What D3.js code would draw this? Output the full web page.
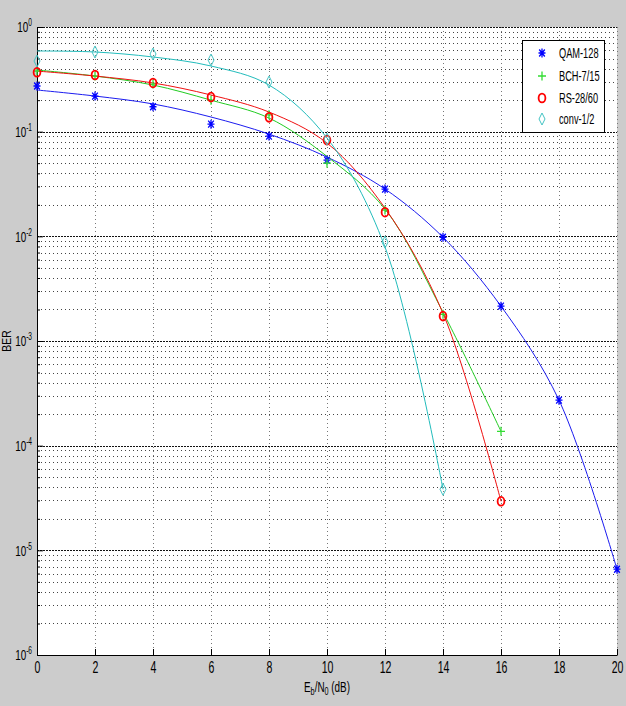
<!DOCTYPE html>
<html>
<head>
<meta charset="utf-8">
<script src="https://cdn.jsdelivr.net/npm/d3@7"></script>
<style>
body { margin: 0; background: #cccccc; }
svg { display: block; font-family: "Liberation Sans", Arial, sans-serif; }
</style>
</head>
<body>
<div id="chart"></div>
<script>
// Eb/N0 axis (dB)
var ebn0 = [0, 2, 4, 6, 8, 10, 12, 14, 16, 18, 20];
var xTicks = [0, 2, 4, 6, 8, 10, 12, 14, 16, 18, 20];
var yExponents = [-6, -5, -4, -3, -2, -1, 0];

// simulated points (markers) and fitted curves
var qamMarks  = [0.273, 0.219, 0.173, 0.118, 0.0908, 0.0535, 0.0283, 0.0098, 0.00215, 2.72e-4, 6.6e-6];
var qamFit    = [0.25, 0.219, 0.184, 0.138, 0.0948, 0.0572, 0.0283, 0.0098, 0.00215, 2.72e-4, 6.6e-6];
var bchMarks  = [0.38, 0.34, 0.285, 0.2, 0.145, 0.05, 0.0178, 0.0018, 1.37e-4];
var bchFit    = [0.388, 0.34, 0.279, 0.2, 0.135, 0.058, 0.0182, 0.00188, 1.37e-4];
var rsMarks   = [0.369, 0.348, 0.292, 0.214, 0.137, 0.0831, 0.017, 0.00173, 2.94e-5];
var rsFit     = [0.379, 0.34, 0.292, 0.224, 0.154, 0.0778, 0.0186, 0.00184, 2.94e-5];
var convMarks = [0.473, 0.577, 0.552, 0.484, 0.298, 0.0849, 0.0088, 3.83e-5];
var convFit   = [0.59, 0.577, 0.517, 0.424, 0.279, 0.087, 0.0079, 3.83e-5];

var series = [
  { name: 'QAM-128',  marks: qamMarks,  fit: qamFit,  color: '#0000ff', line: '#1c1cf0', marker: 'asterisk' },
  { name: 'BCH-7/15', marks: bchMarks,  fit: bchFit,  color: '#33dd33', line: '#22cc22', marker: 'plus' },
  { name: 'RS-28/60', marks: rsMarks,   fit: rsFit,   color: '#ff0000', line: '#f01010', marker: 'circle' },
  { name: 'conv-1/2', marks: convMarks, fit: convFit, color: '#44c4c4', line: '#22bcbc', marker: 'diamond' }
];

var width = 626, height = 706;
var sx = 0.66; // squeeze text horizontally like the original render

var svg = d3.select('#chart').append('svg')
  .attr('width', width)
  .attr('height', height);

svg.append('rect').attr('width', width).attr('height', height).attr('fill', '#cccccc');

var x = d3.scaleLinear().domain([0, 20]).range([37, 617]);
var y = d3.scaleLog().domain([1e-6, 1]).range([655, 27]);

svg.append('rect')
  .attr('x', x(0)).attr('y', y(1))
  .attr('width', x(20) - x(0)).attr('height', y(1e-6) - y(1))
  .attr('fill', '#fff');

var yDecades = yExponents.map(function(e) { return Math.pow(10, e); });
var yMinor = [];
yDecades.slice(0, -1).forEach(function(d) {
  for (var k = 2; k <= 9; k++) yMinor.push(d * k);
});

// grid
var grid = svg.append('g').attr('class', 'grid').attr('shape-rendering', 'crispEdges');
grid.selectAll('line.vx').data(xTicks.slice(1))
  .enter().append('line')
  .attr('x1', function(d) { return Math.round(x(d)) + 0.5; })
  .attr('x2', function(d) { return Math.round(x(d)) + 0.5; })
  .attr('y1', y(1)).attr('y2', y(1e-6))
  .attr('stroke', '#777').attr('stroke-dasharray', '1,3');
grid.selectAll('line.hmin').data(yMinor)
  .enter().append('line')
  .attr('x1', x(0)).attr('x2', x(20))
  .attr('y1', function(d) { return Math.round(y(d)) + 0.5; })
  .attr('y2', function(d) { return Math.round(y(d)) + 0.5; })
  .attr('stroke', '#444').attr('stroke-dasharray', '1,3');
grid.selectAll('line.hmaj').data(yDecades.slice(1))
  .enter().append('line')
  .attr('x1', x(0)).attr('x2', x(20))
  .attr('y1', function(d) { return Math.round(y(d)) + 0.5; })
  .attr('y2', function(d) { return Math.round(y(d)) + 0.5; })
  .attr('stroke', '#111').attr('stroke-dasharray', '2,1');

// axes (box off: only left and bottom)
var xAxis = svg.append('g')
  .attr('transform', 'translate(0,' + y(1e-6) + ')')
  .call(d3.axisBottom(x).tickValues(xTicks).tickSize(-6).tickSizeOuter(0).tickPadding(7));
xAxis.selectAll('text')
  .attr('font-size', 16)
  .attr('fill', '#000')
  .attr('font-family', '"Liberation Sans", Arial, sans-serif')
  .attr('transform', 'scale(' + sx + ',1)');

var yAxis = svg.append('g')
  .attr('transform', 'translate(' + x(0) + ',0)')
  .call(d3.axisLeft(y).tickValues(yDecades).tickSize(-6).tickSizeOuter(0).tickFormat(''));
svg.append('g')
  .attr('transform', 'translate(' + x(0) + ',0)')
  .call(d3.axisLeft(y).tickValues(yMinor).tickSize(-3).tickSizeOuter(0).tickFormat(''))
  .select('.domain').remove();

var yLab = svg.append('g').selectAll('text').data(yExponents)
  .enter().append('text')
  .attr('transform', function(e) { return 'translate(32,' + y(Math.pow(10, e)) + ') scale(' + sx + ',1)'; })
  .attr('text-anchor', 'end')
  .attr('font-size', 15)
  .attr('dy', '0.35em');
yLab.append('tspan').text('10');
yLab.append('tspan').attr('dy', -6).attr('font-size', 10).text(function(e) { return String(e); });

// axis titles
var xt = svg.append('text')
  .attr('transform', 'translate(327,692) scale(' + sx + ',1)')
  .attr('text-anchor', 'middle')
  .attr('font-size', 15);
xt.append('tspan').text('E');
xt.append('tspan').attr('dy', 3).attr('font-size', 11).text('b');
xt.append('tspan').attr('dy', -3).text('/N');
xt.append('tspan').attr('dy', 3).attr('font-size', 11).text('0');
xt.append('tspan').attr('dy', -3).text(' (dB)');

svg.append('text')
  .attr('transform', 'translate(11,341) rotate(-90) scale(0.8,1)')
  .attr('text-anchor', 'middle')
  .attr('font-size', 13)
  .text('BER');

// markers
function markerPath(type) {
  switch (type) {
  case 'asterisk':
    return 'M0,-4.5V4.5M-3.5,0H3.5M-2.8,-3.5L2.8,3.5M-2.8,3.5L2.8,-3.5';
  case 'plus':
    return 'M0,-4.5V4.5M-4,0H4';
  case 'diamond':
    return 'M0,-6L3,0L0,6L-3,0Z';
  }
}

function drawMarker(g, type, color) {
  if (type === 'circle') {
    g.append('ellipse').attr('rx', 3.4).attr('ry', 4.4)
      .attr('fill', 'none').attr('stroke', color).attr('stroke-width', 1.8);
  } else {
    g.append('path').attr('d', markerPath(type))
      .attr('fill', 'none').attr('stroke', color)
      .attr('stroke-width', type === 'diamond' ? 1 : 1.3);
  }
}

var line = d3.line()
  .x(function(d) { return x(d[0]); })
  .y(function(d) { return y(d[1]); })
  .curve(d3.curveCatmullRom.alpha(0.5));

var plot = svg.append('g');
series.forEach(function(s) {
  var pts = s.fit.map(function(v, i) { return [ebn0[i], v]; });
  plot.append('path').datum(pts)
    .attr('d', line)
    .attr('fill', 'none')
    .attr('stroke', s.line)
    .attr('stroke-width', 1);
});
series.forEach(function(s) {
  var pts = s.marks.map(function(v, i) { return [ebn0[i], v]; });
  plot.selectAll(null).data(pts)
    .enter().append('g')
    .attr('transform', function(d) { return 'translate(' + x(d[0]) + ',' + y(d[1]) + ')'; })
    .each(function() { drawMarker(d3.select(this), s.marker, s.color); });
});

// legend
var legendRows = [53, 76, 98, 119];
var legend = svg.append('g');
legend.append('rect')
  .attr('x', 522.5).attr('y', 40.5).attr('width', 82).attr('height', 92)
  .attr('fill', '#fff').attr('stroke', '#000').attr('stroke-width', 1);
series.forEach(function(s, i) {
  var row = legend.append('g').attr('transform', 'translate(0,' + legendRows[i] + ')');
  drawMarker(row.append('g').attr('transform', 'translate(542,0)'), s.marker, s.color);
  row.append('text')
    .attr('transform', 'translate(559,0) scale(' + sx + ',1)')
    .attr('dy', '0.35em')
    .attr('font-size', 14)
    .text(s.name);
});
</script>
</body>
</html>
